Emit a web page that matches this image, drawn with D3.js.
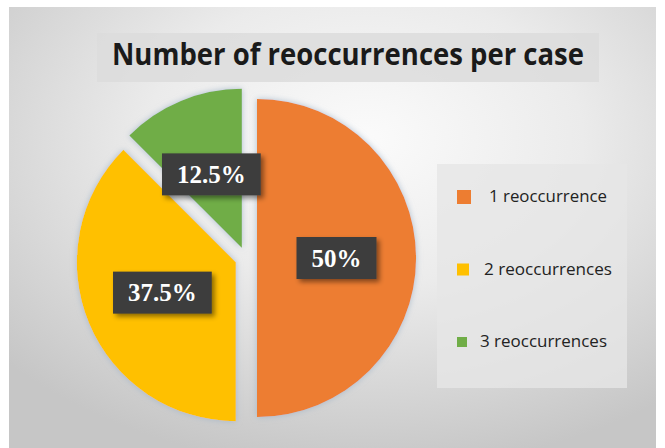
<!DOCTYPE html>
<html>
<head>
<meta charset="utf-8">
<script src="https://unpkg.com/d3@7.8.5/dist/d3.min.js"></script>
<style>
  body { margin: 0; background: #fff; }
  svg { display: block; }
</style>
</head>
<body>
<div id="chart"></div>
<script>
// data
const categories = ["1 reoccurrence", "2 reoccurrences", "3 reoccurrences"];
const shares = [50, 37.5, 12.5];
const percentLabels = ["50%", "37.5%", "12.5%"];
const sliceColors = ["#ED7D31", "#FFC000", "#70AD47"];
const chartTitle = "Number of reoccurrences per case";

let width = 665;
let height = 448;

let svg = d3.select("#chart").append("svg")
    .attr("width", width)
    .attr("height", height);

let defs = svg.append("defs");

let bg = defs.append("radialGradient")
    .attr("id", "bgGrad")
    .attr("cx", "0.55").attr("cy", "0.3").attr("r", "0.75");
bg.append("stop").attr("offset", "0%").attr("stop-color", "#fbfbfb");
bg.append("stop").attr("offset", "45%").attr("stop-color", "#ebebeb");
bg.append("stop").attr("offset", "100%").attr("stop-color", "#c6c6c6");

let glow = defs.append("filter").attr("id", "glow")
    .attr("x", "-20%").attr("y", "-20%").attr("width", "140%").attr("height", "140%");
glow.append("feDropShadow")
    .attr("dx", 0).attr("dy", 0).attr("stdDeviation", 3)
    .attr("flood-color", "#9fb2c6").attr("flood-opacity", 0.8);

let shadow = defs.append("filter").attr("id", "shadow")
    .attr("x", "-20%").attr("y", "-30%").attr("width", "150%").attr("height", "170%");
shadow.append("feDropShadow")
    .attr("dx", 3).attr("dy", 3).attr("stdDeviation", 2.5)
    .attr("flood-color", "#000").attr("flood-opacity", 0.45);

// background panel
svg.append("rect")
    .attr("x", 9).attr("y", 7)
    .attr("width", 647).attr("height", 441)
    .attr("fill", "url(#bgGrad)");

// title
svg.append("rect")
    .attr("x", 97).attr("y", 33)
    .attr("width", 502).attr("height", 49)
    .attr("fill", "#dcdcdc").attr("opacity", 0.85);

svg.append("text")
    .attr("x", 112).attr("y", 65)
    .attr("font-family", "'Open Sans', sans-serif")
    .attr("font-weight", "bold")
    .attr("font-size", 30)
    .attr("fill", "#1a1a1a")
    .attr("textLength", 472)
    .attr("lengthAdjust", "spacingAndGlyphs")
    .text(chartTitle);

// pie
let cx = 246, cy = 258, radius = 159, explode = 11;

let pie = d3.pie().sort(null).value(d => d);
let arc = d3.arc().innerRadius(0).outerRadius(radius);
let slices = pie(shares);

function offset(d, dist) {
    let a = (d.startAngle + d.endAngle) / 2;
    return [Math.sin(a) * dist, -Math.cos(a) * dist];
}

let g = svg.append("g").attr("transform", `translate(${cx},${cy})`);

g.selectAll("path")
    .data(slices)
    .join("path")
    .attr("transform", d => `translate(${offset(d, explode)})`)
    .attr("d", arc)
    .attr("fill", (d, i) => sliceColors[i])
    .attr("filter", "url(#glow)");

let lab = g.selectAll("g.lab")
    .data(slices)
    .join("g")
    .attr("class", "lab")
    .attr("transform", d => {
        let o = offset(d, explode);
        let c = arc.centroid(d);
        return `translate(${c[0] + o[0]},${c[1] + o[1]})`;
    });

lab.append("text")
    .attr("text-anchor", "middle")
    .attr("dy", "0.35em")
    .attr("font-family", "'Liberation Serif', serif")
    .attr("font-weight", "bold")
    .attr("font-size", 25)
    .attr("fill", "#fff")
    .text((d, i) => percentLabels[i]);

lab.each(function() {
    let grp = d3.select(this);
    let t = grp.select("text");
    let w = t.node().getComputedTextLength();
    grp.insert("rect", "text")
        .attr("x", -w / 2 - 15).attr("y", -21)
        .attr("width", w + 30).attr("height", 42)
        .attr("fill", "#3d3d3d")
        .attr("filter", "url(#shadow)");
});

// legend
let legend = svg.append("g");
legend.append("rect")
    .attr("x", 437).attr("y", 164)
    .attr("width", 190).attr("height", 224)
    .attr("fill", "#e6e6e6").attr("opacity", 0.8);

let legendY = d3.scalePoint()
    .domain(categories)
    .range([197, 342]);

let squareSize = [14, 12, 10];
let textX = [489, 484, 480];
let textW = [118, 128, 127];

let item = legend.selectAll("g.item")
    .data(categories)
    .join("g")
    .attr("class", "item")
    .attr("transform", d => `translate(0,${legendY(d)})`);

item.append("rect")
    .attr("x", 457)
    .attr("y", (d, i) => -squareSize[i] / 2)
    .attr("width", (d, i) => squareSize[i])
    .attr("height", (d, i) => squareSize[i])
    .attr("fill", (d, i) => sliceColors[i]);

item.append("text")
    .attr("x", (d, i) => textX[i])
    .attr("dy", "0.35em")
    .attr("font-family", "'Open Sans', sans-serif")
    .attr("font-size", 15.5)
    .attr("fill", "#222")
    .attr("textLength", (d, i) => textW[i])
    .attr("lengthAdjust", "spacingAndGlyphs")
    .text(d => d);
</script>
</body>
</html>
